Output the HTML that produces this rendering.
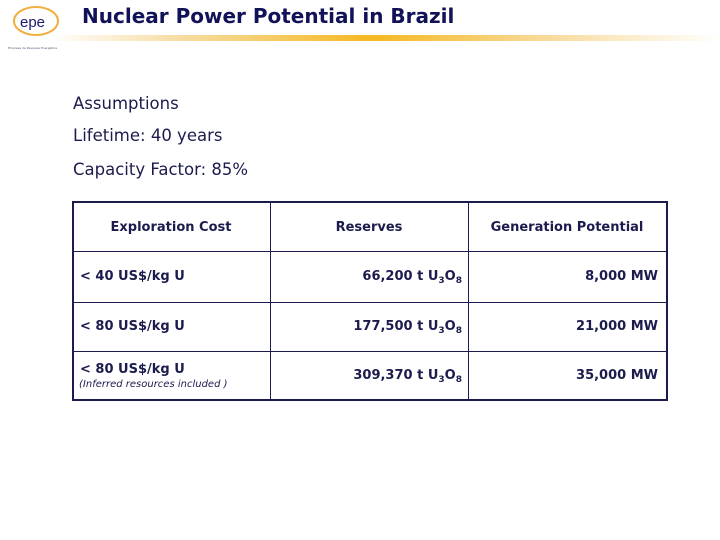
<!DOCTYPE html>
<html><head><meta charset="utf-8"><style>
body{margin:0;width:720px;height:540px;background:#fff;position:relative;overflow:hidden;font-family:"DejaVu Sans","Liberation Sans",sans-serif;color:#1b1b4d}
.a{position:absolute;white-space:nowrap}
.b{font-weight:bold;font-size:13px}
.line{position:absolute;background:#1b1b4d}
sub{font-size:9px;vertical-align:-3px}
</style></head><body>
<div class="a" style="left:8px;top:4px;width:60px;height:36px">
<svg width="60" height="36"><ellipse cx="28" cy="17" rx="22" ry="14" fill="none" stroke="#f0b040" stroke-width="2"/><text x="12" y="23" font-family="Liberation Sans" font-size="15" fill="#1b1b6d">epe</text></svg></div>
<div class="a" style="left:8px;top:46px;font-size:3px;color:#557">Empresa de Pesquisa Energética</div>
<div class="a" style="left:82px;top:4px;font-size:20px;font-weight:bold;color:#121258">Nuclear Power Potential in Brazil</div>
<div class="a" style="left:50px;top:35px;width:670px;height:6px;background:linear-gradient(to right,#fff 0%,#f7dca0 20%,#f5b820 48%,#f8dca0 75%,#fff 100%)"></div>
<div class="a" style="left:73px;top:94px;font-size:16.5px">Assumptions</div>
<div class="a" style="left:73px;top:126px;font-size:16.5px">Lifetime: 40 years</div>
<div class="a" style="left:73px;top:160px;font-size:16.5px">Capacity Factor: 85%</div>
<div>
<div class="a" style="left:72px;top:201px;width:592px;height:196px;border:2px solid #1b1b4d"></div>
<div class="line" style="left:270px;top:201px;width:1px;height:198px"></div>
<div class="line" style="left:468px;top:201px;width:1px;height:198px"></div>
<div class="line" style="left:72px;top:251px;width:594px;height:1px"></div>
<div class="line" style="left:72px;top:302px;width:594px;height:1px"></div>
<div class="line" style="left:72px;top:351px;width:594px;height:1px"></div>
<div class="a b" style="left:72px;width:198px;text-align:center;top:220px">Exploration Cost</div>
<div class="a b" style="left:270px;width:198px;text-align:center;top:220px">Reserves</div>
<div class="a b" style="left:468px;width:198px;text-align:center;top:220px">Generation Potential</div>
<div class="a b" style="left:80px;top:269px">&lt; 40 US$/kg U</div>
<div class="a b" style="right:258px;top:269px">66,200 t U<sub>3</sub>O<sub>8</sub></div>
<div class="a b" style="right:62px;top:269px">8,000 MW</div>
<div class="a b" style="left:80px;top:319px">&lt; 80 US$/kg U</div>
<div class="a b" style="right:258px;top:319px">177,500 t U<sub>3</sub>O<sub>8</sub></div>
<div class="a b" style="right:62px;top:319px">21,000 MW</div>
<div class="a b" style="left:80px;top:362px">&lt; 80 US$/kg U</div>
<div class="a" style="left:79px;top:379px;font-size:10px;font-style:italic">(Inferred resources included )</div>
<div class="a b" style="right:258px;top:368px">309,370 t U<sub>3</sub>O<sub>8</sub></div>
<div class="a b" style="right:62px;top:368px">35,000 MW</div>
</div>
</body></html>
